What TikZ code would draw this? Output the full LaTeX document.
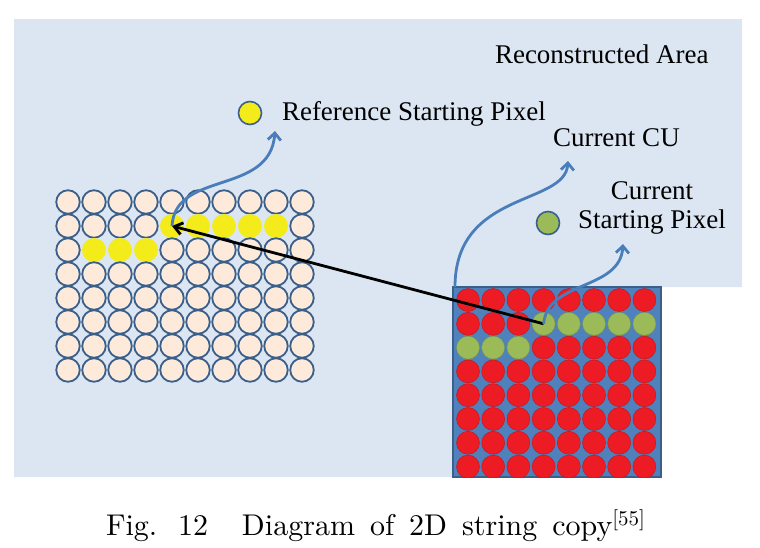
\documentclass[tikz,border=0pt]{standalone}
\usepackage{fontspec}
\newfontfamily\lblfont{Liberation Serif}
\newfontfamily\capfont{lmroman10-regular.otf}
\usetikzlibrary{arrows.meta}
\definecolor{areabg}{HTML}{DCE6F2}
\definecolor{peach}{HTML}{FDEADA}
\definecolor{pixline}{HTML}{3A5F8B}
\definecolor{refyel}{HTML}{F3EB1A}
\definecolor{curred}{HTML}{ED1C24}
\definecolor{curgrn}{HTML}{9BBB59}
\definecolor{cublue}{HTML}{4F81BD}
\definecolor{hintblue}{HTML}{4A7EBB}
\begin{document}
\begin{tikzpicture}[x=1pt,y=-1pt,inner sep=0pt,outer sep=0pt,
refpix/.style={draw=pixline,fill=peach,circle,minimum size=23.5pt,line width=1.8pt},
yelpix/.style={fill=refyel,circle,minimum size=24pt},
redpix/.style={fill=curred,draw=curred!80!black,circle,minimum size=23pt,line width=0.4pt},
grnpix/.style={fill=curgrn,draw=curgrn!80!black,circle,minimum size=23pt,line width=0.4pt},
curblock/.style={fill=cublue,draw=pixline,line width=1.4pt,minimum width=208pt,minimum height=190pt},
legdot/.style={draw=pixline,circle,minimum size=23pt,line width=1.6pt},
lbl/.style={font=\lblfont\fontsize{27}{30}\selectfont,anchor=base west},
hint/.style={draw=hintblue,line width=2.8pt,-{Straight Barb[length=7pt,width=13pt]}},
copyvec/.style={draw=black,line width=2.8pt,-{Straight Barb[length=8pt,width=12pt]}}]
\useasboundingbox (0,0) rectangle (760,547);
\fill[areabg] (14,19) -- (742,19) -- (742,287) -- (453,287) -- (453,477) -- (14,477) -- cycle;
\foreach \r in {0,...,7}
  \foreach \c in {0,...,9}{
    \def\sty{refpix}
    \ifnum\r=1 \ifnum\c>3 \ifnum\c<9 \def\sty{yelpix}\fi\fi\fi
    \ifnum\r=2 \ifnum\c>0 \ifnum\c<4 \def\sty{yelpix}\fi\fi\fi
    \draw (68+26*\c,202+24*\r) node[\sty] (L-\r-\c) {};
  }
\draw (557,382) node[curblock] (cu) {};
\begin{scope}
\clip (cu.south west) rectangle (cu.north east);
\foreach \r in {0,...,7}
  \foreach \c in {0,...,7}{
    \def\sty{redpix}
    \ifnum\r=1 \ifnum\c>2 \def\sty{grnpix}\fi\fi
    \ifnum\r=2 \ifnum\c<3 \def\sty{grnpix}\fi\fi
    \draw (468+25.2*\c,300+23.8*\r) node[\sty] (C-\r-\c) {};
  }
\end{scope}
\draw (250,113) node[legdot,fill=refyel] (refdot) {};
\draw (548,223) node[legdot,fill=curgrn] (curdot) {};
\draw (495,63) node[lbl] (area) {Reconstructed Area};
\draw (282,120) node[lbl] (reftxt) {Reference Starting Pixel};
\draw (553,146) node[lbl] (cutxt) {Current CU};
\draw (652,208) node[lbl,anchor=center,align=center] (curtxt) {Current\\[-1pt]Starting Pixel};
\draw (106,535) node[anchor=base west,font=\capfont\fontsize{30}{33}\selectfont] (cap) {\spaceskip=15pt\relax\makebox[72pt][l]{Fig.}\makebox[64pt][l]{12}Diagram of 2D string copy\textsuperscript{[55]}};
\coordinate (reftip) at (275,131);
\coordinate (cutip) at (568,161);
\coordinate (curtip) at (623,244);
\draw[copyvec] (C-1-3.center) -- (L-1-4.center);
\draw[hint] (L-1-4.center) .. controls +(3,-56) and +(-5,65) .. (reftip);
\draw[hint] ([xshift=2pt]cu.north west) .. controls +(0,-97) and +(-3,45) .. (cutip);
\draw[hint] (C-1-3.center) .. controls +(4,-44) and +(-3,47) .. (curtip);
\end{tikzpicture}
\end{document}
